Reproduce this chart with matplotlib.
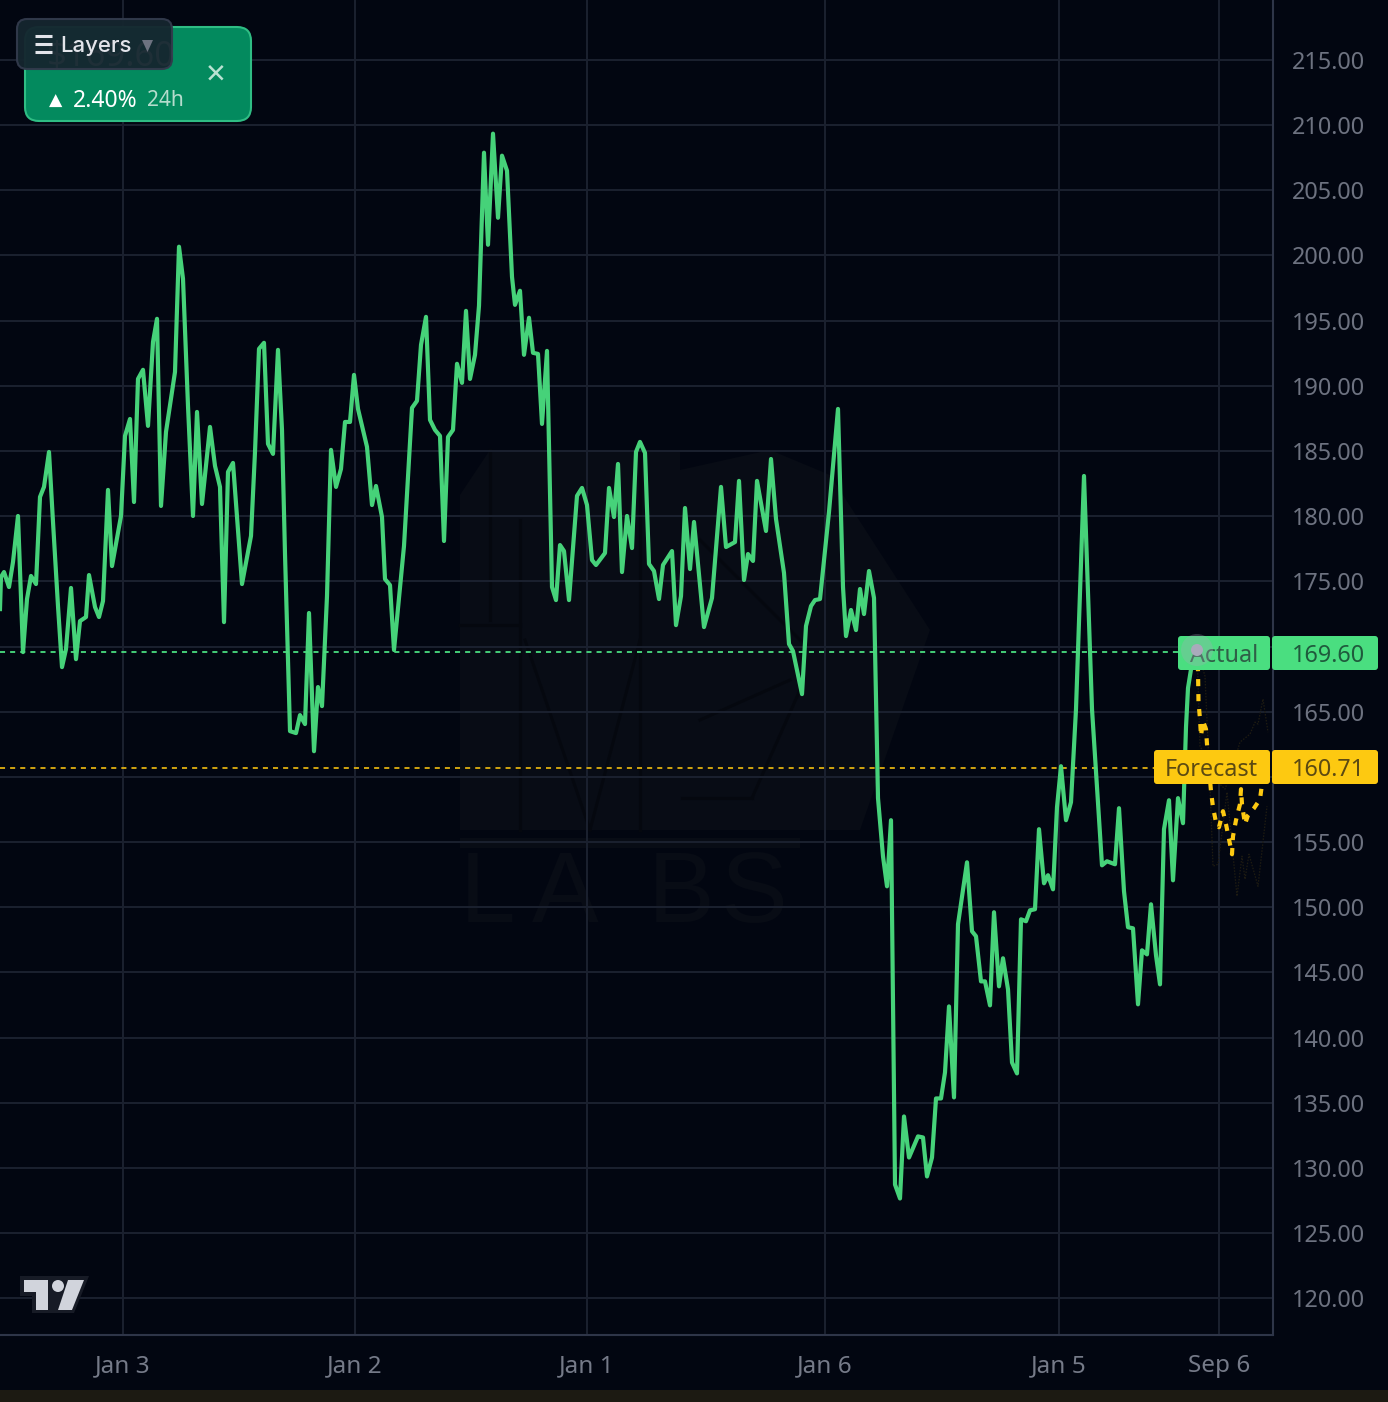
import matplotlib
matplotlib.use("Agg")
import matplotlib.pyplot as plt
from matplotlib.patches import FancyBboxPatch, Polygon, Circle, Rectangle

plt.rcParams['font.family'] = ['Noto Sans', 'DejaVu Sans']

time_steps = [0,1,4,9,13,18,23,27,31,36,40,44,49,53,58,62,66,71,76,80,86,89,95,99,103,108,112,121,125,130,134,138,143,148,153,157,161,166,175,179,183,188,193,197,202,210,215,220,224,228,233,242,251,255,259,264,268,273,278,282,285,290,296,300,305,309,314,318,322,327,331,336,341,345,350,354,358,367,372,376,382,385,390,394,404,412,417,421,426,430,435,440,444,448,453,457,462,466,470,475,479,484,488,493,498,502,507,512,515,520,524,529,533,538,542,547,552,556,560,564,569,577,582,587,592,596,605,609,614,618,622,627,632,636,640,645,649,654,659,663,672,676,681,685,690,694,704,712,721,726,735,739,744,748,753,757,766,771,776,784,789,793,802,806,811,815,820,829,838,843,846,851,856,860,864,869,874,878,883,887,891,895,900,904,909,918,923,927,932,936,941,945,949,954,958,967,972,976,981,985,990,994,999,1003,1008,1012,1017,1021,1026,1030,1035,1039,1044,1048,1053,1057,1061,1066,1071,1076,1084,1092,1102,1107,1115,1119,1124,1128,1133,1138,1142,1147,1151,1156,1160,1164,1169,1173,1178,1183,1186,1188,1192,1197]
prices = [172.87,175.33,175.71,174.56,176.48,180.01,169.57,173.64,175.41,174.79,181.47,182.24,184.92,179.55,173.10,168.42,169.80,174.49,169.03,171.95,172.26,175.48,173.03,172.26,173.49,182.01,176.17,180.01,186.15,187.45,181.08,190.52,191.22,186.92,193.36,195.13,180.78,186.46,191.06,200.66,198.20,188.45,180.01,187.99,180.93,186.84,183.85,182.24,171.87,183.39,184.08,174.79,178.48,184.92,192.83,193.29,185.54,184.77,192.75,186.61,177.09,163.51,163.36,164.74,164.05,172.57,161.97,166.89,165.43,173.87,185.08,182.24,183.62,187.22,187.22,190.83,188.22,185.31,180.85,182.31,179.93,175.17,174.71,169.73,177.71,188.30,188.84,193.13,195.28,187.38,186.61,186.15,178.09,186.07,186.61,191.68,190.22,195.74,190.52,192.37,196.13,207.87,200.81,209.33,202.88,207.64,206.49,198.35,196.20,197.28,192.37,195.21,192.52,192.44,187.07,192.67,174.56,173.56,177.78,177.32,173.56,181.55,182.16,180.85,176.63,176.25,177.17,182.16,179.93,184.00,175.71,180.01,177.55,184.92,185.69,184.85,176.33,175.79,173.64,176.25,177.32,171.64,173.87,180.62,175.94,179.55,171.49,173.72,182.24,177.63,178.01,182.70,175.10,177.09,176.56,182.70,178.86,184.38,179.78,175.64,170.19,169.65,166.35,171.57,173.10,173.56,173.64,180.32,188.22,174.56,170.80,172.80,171.26,174.41,172.49,175.79,173.72,158.37,153.91,151.61,156.68,128.74,127.67,133.96,130.81,132.43,132.35,129.36,130.81,135.34,135.34,137.34,142.40,135.42,148.70,153.45,148.16,147.78,144.32,144.32,142.48,149.62,143.94,146.09,143.71,138.10,137.26,149.08,148.93,149.77,149.85,155.99,151.84,152.46,151.38,157.68,160.82,156.68,158.06,165.20,183.08,165.20,153.22,153.53,153.30,157.60,151.23,148.47,148.39,142.56,146.70,146.39,150.23,146.32,144.09,155.99,158.21,152.07,158.37,156.45,163.82,166.81,168.73,169.88]

forecast_steps = [1197,1198,1198.5,1200,1201,1203,1206,1207,1211,1213,1216,1219,1223,1226,1229,1232,1233,1236,1240,1241,1242,1245,1248,1254,1260,1262,1265]
forecast_prices = [169.8,168.11,165.74,164.43,163.13,164.28,163.66,162.51,158.90,157.68,156.52,156.14,157.37,156.37,155.22,154.07,155.45,156.68,157.91,159.06,157.91,156.37,157.06,157.60,158.29,159.44,160.59]

lower_steps = [1197,1205,1210,1213,1218,1227,1237,1242,1245,1249,1258,1267]
lower_prices = [169.8,167.73,159.29,153.15,153.30,158.83,150.85,153.92,152.15,154.07,151.61,157.75]
upper_steps = [1197,1200,1207,1215,1225,1232,1240,1250,1255,1258,1263,1268]
upper_prices = [169.8,162.36,161.36,159.83,159.06,160.59,162.67,163.28,164.20,164.05,165.97,163.43]

actual_price = 169.60
forecast_price = 160.71
price_ticks = [120,125,130,135,140,145,150,155,160,165,170,175,180,185,190,195,200,205,210,215]
hidden_price_ticks = [160,170]
date_ticks = [123,355,587,825,1059,1219]
date_labels = ['Jan 3','Jan 2','Jan 1','Jan 6','Jan 5','Sep 6']

W, H = 1388, 1402
BG = '#020611'
GRID = '#1b212f'
AXIS = '#2e3548'
GREEN = '#4ade80'
GOLD = '#fdc911'
TICK = '#6d7280'

fig = plt.figure(figsize=(W/100, H/100), dpi=100, facecolor=BG)
ax = fig.add_axes([0, (H-1335)/H, 1273/W, 1335/H], facecolor='none')
ax.set_xlim(0, 1273)
ax.set_ylim(117.2, 219.58)

ax.set_yticks(price_ticks)
ax.set_yticklabels(['' if p in hidden_price_ticks else f'{p:.2f}' for p in price_ticks])
ax.yaxis.tick_right()
ax.set_xticks(date_ticks)
ax.set_xticklabels(date_labels)
ax.tick_params(axis='y', length=0, pad=13.5, labelsize=16.8, labelcolor=TICK)
ax.tick_params(axis='x', length=0, pad=14, labelsize=17.5, labelcolor='#757a88')
ax.grid(True, color=GRID, lw=1.4, zorder=1)
ax.set_axisbelow(True)
for s in ('top', 'left'):
    ax.spines[s].set_visible(False)
for s in ('right', 'bottom'):
    ax.spines[s].set_color(AXIS)
    ax.spines[s].set_linewidth(1.5)

# faint watermark behind the chart
wm = '#080c15'
back = fig.add_axes([0, 0, 1, 1], facecolor='none', zorder=-1)
back.set_xlim(0, W)
back.set_ylim(H, 0)
back.axis('off')
back.add_patch(Polygon([(460,495),(490,450),(680,450),(680,830),(460,830)], fc=wm, ec='none'))
back.add_patch(Polygon([(680,470),(770,450),(830,475),(930,630),(860,830),(680,830)], fc=wm, ec='none'))
for pts in ([(490,450),(490,620)], [(460,625),(520,625)], [(525,640),(590,830)], [(590,830),(640,640)],
            [(520,520),(520,830)], [(640,450),(640,830)], [(682,798),(752,798)], [(752,798),(800,690)],
            [(700,720),(790,680)], [(700,540),(800,640)]):
    back.plot(*zip(*pts), color='#05080f', lw=2.2)
back.add_patch(Rectangle((460,838), 340, 10, fc=wm, ec='none'))
for letter, xpos in zip('LABS', (460, 532, 648, 720)):
    back.text(xpos, 922, letter, color=wm, fontsize=72, family='Liberation Sans', va='baseline', ha='left')

ax.plot(lower_steps, lower_prices, color='#1f1c12', lw=0.9, ls=(0, (1.2, 1.2)), zorder=2)
ax.plot(upper_steps, upper_prices, color='#1f1c12', lw=0.9, ls=(0, (1.2, 1.2)), zorder=2)
ax.axhline(actual_price, color=GREEN, lw=1.3, dashes=(2.8, 2.8), zorder=3)
ax.axhline(forecast_price, color='#e0b010', lw=1.3, dashes=(2.8, 2.8), zorder=3)
ax.plot(time_steps, prices, color=GREEN, lw=3.0, solid_joinstyle='round', alpha=0.95, zorder=4)
ax.plot(forecast_steps, forecast_prices, color=GOLD, lw=3.0, dashes=(1.7, 1.9), zorder=4)

# chrome drawn in figure pixels
ui = fig.add_axes([0, 0, 1, 1], facecolor='none', zorder=5)
ui.set_xlim(0, W)
ui.set_ylim(H, 0)
ui.axis('off')

ui.add_patch(Rectangle((0,1390), W, 12, fc='#1c1a12', ec='none'))

def tag(x0, x1, y0, y1, fc):
    ui.add_patch(FancyBboxPatch((x0+2, y0+2), x1-x0-4, y1-y0-4, boxstyle='round,pad=2,rounding_size=3', fc=fc, ec='none', zorder=2))

tag(1178, 1270, 636, 670, GREEN)
tag(1272, 1378, 636, 670, GREEN)
tag(1154, 1270, 750, 784, GOLD)
tag(1272, 1378, 750, 784, GOLD)
ui.text(1258, 656, 'Actual', color='#2f5f47', fontsize=16.8, ha='right', va='center', zorder=3)
ui.text(1365, 656, f'{actual_price:.2f}', color='#1f5a3c', fontsize=16.8, ha='right', va='center', zorder=3)
ui.text(1258, 770, 'Forecast', color='#5c4a12', fontsize=16.8, ha='right', va='center', zorder=3)
ui.text(1365, 770, f'{forecast_price:.2f}', color='#5c4a12', fontsize=16.8, ha='right', va='center', zorder=3)
ui.add_patch(Circle((1197,650), 16, fc='#a9aabb', ec='none', alpha=0.28, zorder=4))
ui.add_patch(Circle((1197,650), 6, fc='#a9aabb', ec='none', zorder=4))

# price badge
ui.add_patch(FancyBboxPatch((37,39), 202, 70, boxstyle='round,pad=12,rounding_size=14', fc='#038a5e', ec='#2fbd84', lw=1.5, zorder=6))
ui.text(47, 56, '$169.60', color='white', fontsize=25, fontweight='bold', ha='left', va='center', zorder=6)
ui.text(216, 77, '×', color='#b9e2d2', fontsize=25, ha='center', va='center', zorder=7)
ui.text(49, 101, '▲', color='white', fontsize=12.5, ha='left', va='center', zorder=7, family='DejaVu Sans')
ui.text(73, 101, '2.40%', color='white', fontsize=16.5, fontweight='medium', ha='left', va='center', zorder=7)
ui.text(147, 101, '24h', color='#b5dccd', fontsize=15, ha='left', va='center', zorder=7)

# layers button
ui.add_patch(FancyBboxPatch((27,29), 135, 30, boxstyle='round,pad=10,rounding_size=10', fc='#15262f', ec='#323a4c', lw=1.5, alpha=0.96, zorder=8))
for yy in (36, 44, 52):
    ui.plot([35, 52], [yy, yy], color='#e2e4ea', lw=2.2, solid_capstyle='butt', zorder=9)
ui.text(60, 46, 'Layers', color='#e2e4ea', fontsize=16, fontweight='medium', family='Inter', ha='left', va='center', zorder=9)
ui.add_patch(Polygon([(142,40),(153,40),(147.5,52)], fc='#6d7280', ec='none', zorder=9))

# logo
ui.add_patch(Polygon([(20,1276),(89,1276),(74,1313),(32,1313),(32,1296),(20,1296)], fc='#171b26', ec='none', zorder=6))
ui.add_patch(Polygon([(24,1280),(48,1280),(48,1310),(36,1310),(36,1292),(24,1292)], fc='#d1d4dc', ec='none', zorder=7))
ui.add_patch(Polygon([(68,1280),(84,1280),(72,1310),(58,1310)], fc='#d1d4dc', ec='none', zorder=7))
ui.add_patch(Circle((58,1286), 6, fc='#d1d4dc', ec='none', zorder=7))

fig.savefig('out.png', dpi=100, facecolor=BG)
